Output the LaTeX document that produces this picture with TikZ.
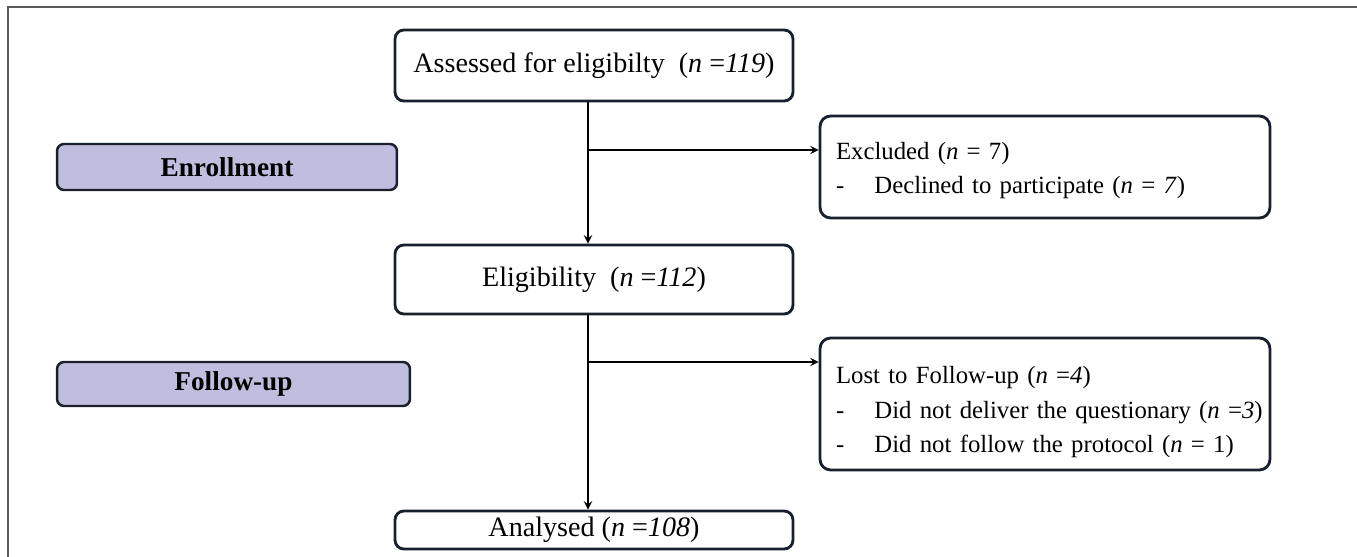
\documentclass[tikz,border=0pt]{standalone}
\usepackage{fontspec}
\setmainfont{Liberation Serif}
\usepackage{tikz}
\usetikzlibrary{positioning, arrows, calc}
\definecolor{framegray}{RGB}{90,90,90}
\definecolor{boxline}{RGB}{25,32,45}
\definecolor{phasefill}{RGB}{192,190,222}

\begin{document}
\begin{tikzpicture}[x=0.02cm, y=-0.02cm,
font=\fontsize{16}{20}\selectfont,
stage/.style={rectangle, rounded corners=5pt, draw=boxline, line width=1.6pt,
fill=white, minimum width=7.96cm, align=center, inner sep=0pt},
sidebox/.style={rectangle, rounded corners=6pt, draw=boxline, line width=1.6pt,
fill=white, minimum width=9cm, align=left, text width=8.36cm, inner xsep=0.32cm,
inner ysep=0pt, font=\fontsize{14.1}{19.5}\selectfont},
phase/.style={rectangle, rounded corners=4pt, draw=boxline, line width=1.4pt,
fill=phasefill, align=center, inner sep=0pt, font=\fontsize{15.5}{18}\selectfont\bfseries},
arrow/.style={->, line width=1.1pt, >=stealth}
]
\useasboundingbox (0,0) rectangle (1357,557);

% Frame
\draw[framegray, line width=1.2pt] (8,557) -- (8,7) -- (1357,7);

% Main stages
\node[stage, minimum height=1.42cm] (assess) at (594,65.5)
{Assessed for eligibilty\enspace(\textit{n} =\textit{119})};
\node[stage, minimum height=1.38cm] (elig) at (594,279.5)
{Eligibility\enspace(\textit{n} =\textit{112})};
\node[stage, minimum height=0.76cm] (analysed) at (594,530)
{Analysed (\textit{n} =\textit{108})};

% Exclusions
\node[sidebox, minimum height=2.04cm] (excl) at (1045,167)
{\rule{0pt}{14pt}Excluded (\textit{n} = 7)\\
\makebox[1.55em][l]{-}Declined to participate (\textit{n} = \textit{7})};
\node[sidebox, minimum height=2.64cm] (lost) at (1045,404)
{\rule{0pt}{19pt}Lost to Follow-up (\textit{n} =\textit{4})\\
\mbox{\makebox[1.55em][l]{-}Did not deliver the questionary (\textit{n} =\textit{3})}\\
\makebox[1.55em][l]{-}Did not follow the protocol (\textit{n} = 1)};

% Phases
\node[phase, minimum width=6.8cm, minimum height=0.92cm] (enrol) at (227,167) {Enrollment};
\node[phase, minimum width=7.06cm, minimum height=0.88cm] (follow) at (233.5,384) {Follow-up};

% Junctions
\coordinate (j1) at (588,150);
\coordinate (j2) at (588,362);

% Arrows
\draw[arrow] (assess.south -| j1) -- (elig.north -| j1);
\draw[arrow] (j1) -- (excl.west |- j1);
\draw[arrow] (elig.south -| j2) -- (analysed.north -| j2);
\draw[arrow] (j2) -- (lost.west |- j2);

\end{tikzpicture}
\end{document}
